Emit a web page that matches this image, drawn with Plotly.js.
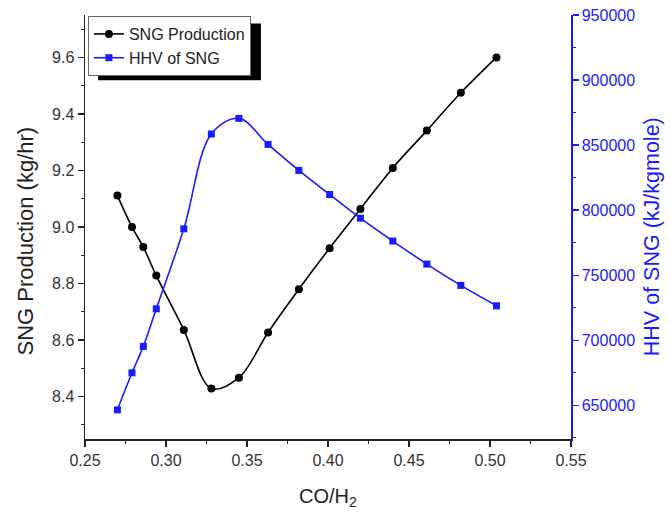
<!DOCTYPE html>
<html>
<head>
<meta charset="utf-8">
<script src="https://cdn.plot.ly/plotly-3.0.1.min.js"></script>
<style>html,body{margin:0;padding:0;background:#fff;}#chart{width:670px;height:516px;}</style>
</head>
<body>
<div id="chart"></div>
<script>
const coRatio = [0.270, 0.279, 0.286, 0.294, 0.311, 0.328, 0.345, 0.363, 0.382, 0.401, 0.420, 0.440, 0.461, 0.482, 0.504];
const sngProduction = [9.111, 9.000, 8.929, 8.828, 8.636, 8.429, 8.467, 8.627, 8.780, 8.925, 9.064, 9.209, 9.341, 9.475, 9.600];
const hhvSNG = [646400, 674900, 695200, 724100, 785600, 858500, 870500, 850500, 830500, 812000, 793800, 776200, 758500, 742100, 726400];
const xTickVals = [0.25, 0.30, 0.35, 0.40, 0.45, 0.50, 0.55];
const blue = '#1a1aff';
const fontFam = 'Arial, "Liberation Sans", sans-serif';

const traces = [
  {
    x: coRatio, y: sngProduction, name: 'SNG Production', type: 'scatter', mode: 'lines+markers',
    line: {color: '#000', width: 1.6, shape: 'spline', smoothing: 1},
    marker: {symbol: 'circle', size: 8, color: '#000'},
    yaxis: 'y'
  },
  {
    x: coRatio, y: hhvSNG, name: 'HHV of SNG', type: 'scatter', mode: 'lines+markers',
    line: {color: blue, width: 1.6, shape: 'spline', smoothing: 1},
    marker: {symbol: 'square', size: 7, color: blue},
    yaxis: 'y2'
  }
];

const layout = {
  width: 670, height: 516,
  margin: {l: 85, r: 99, t: 15, b: 77},
  paper_bgcolor: '#fff', plot_bgcolor: '#fff',
  font: {family: fontFam, size: 16, color: '#333'},
  showlegend: true,
  legend: {
    x: 0.006, y: 0.9976, xanchor: 'left', yanchor: 'top',
    bgcolor: '#fff', bordercolor: '#666', borderwidth: 1,
    font: {family: fontFam, size: 16, color: '#222'},
    itemwidth: 30, tracegroupgap: 0
  },
  xaxis: {
    range: [0.25, 0.55], tickvals: xTickVals, tickformat: '.2f',
    showgrid: false, zeroline: false, showline: true, linecolor: '#222', linewidth: 1.5,
    ticks: 'outside', ticklen: 6, tickwidth: 1.2, tickcolor: '#222',
    minor: {dtick: 0.025, ticks: 'outside', ticklen: 3, tickcolor: '#222', tickwidth: 1.2},
    tickfont: {size: 16, color: '#333'}
  },
  yaxis: {
    range: [8.25, 9.75], dtick: 0.2, tick0: 8.4, tickformat: '.1f',
    showgrid: false, zeroline: false, showline: true, linecolor: '#222', linewidth: 1.5,
    ticks: 'outside', ticklen: 6, tickwidth: 1.2, tickcolor: '#222',
    minor: {dtick: 0.1, ticks: 'outside', ticklen: 3, tickcolor: '#222', tickwidth: 1.2},
    tickfont: {size: 16, color: '#333'}
  },
  yaxis2: {
    overlaying: 'y', side: 'right',
    range: [624000, 950000], dtick: 50000, tick0: 650000, tickformat: 'd',
    showgrid: false, zeroline: false, showline: true, linecolor: blue, linewidth: 1.5,
    ticks: 'outside', ticklen: 6, tickwidth: 1.2, tickcolor: blue,
    minor: {dtick: 25000, ticks: 'outside', ticklen: 3, tickcolor: blue, tickwidth: 1.2},
    tickfont: {size: 16, color: blue}
  },
  annotations: [
    {text: 'SNG Production (kg/hr)', xref: 'paper', yref: 'paper', x: -0.1224, y: 0.467,
     xanchor: 'center', yanchor: 'middle', textangle: -90, showarrow: false,
     font: {size: 22, color: '#222'}},
    {text: 'HHV of SNG (kJ/kgmole)', xref: 'paper', yref: 'paper', x: 1.1667, y: 0.476,
     xanchor: 'center', yanchor: 'middle', textangle: -90, showarrow: false,
     font: {size: 21.5, color: blue}},
    {text: 'CO/H<sub>2</sub>', xref: 'paper', yref: 'paper', x: 0.5, y: -0.139,
     xanchor: 'center', yanchor: 'middle', showarrow: false,
     font: {size: 20, color: '#222'}}
  ],
  shapes: [
    {type: 'rect', xref: 'paper', yref: 'paper', x0: 0.027, x1: 0.362, y0: 0.846, y1: 0.98,
     fillcolor: '#000', line: {width: 0}, layer: 'above'}
  ]
};

Plotly.newPlot('chart', traces, layout, {displayModeBar: false, staticPlot: true});
</script>
</body>
</html>
